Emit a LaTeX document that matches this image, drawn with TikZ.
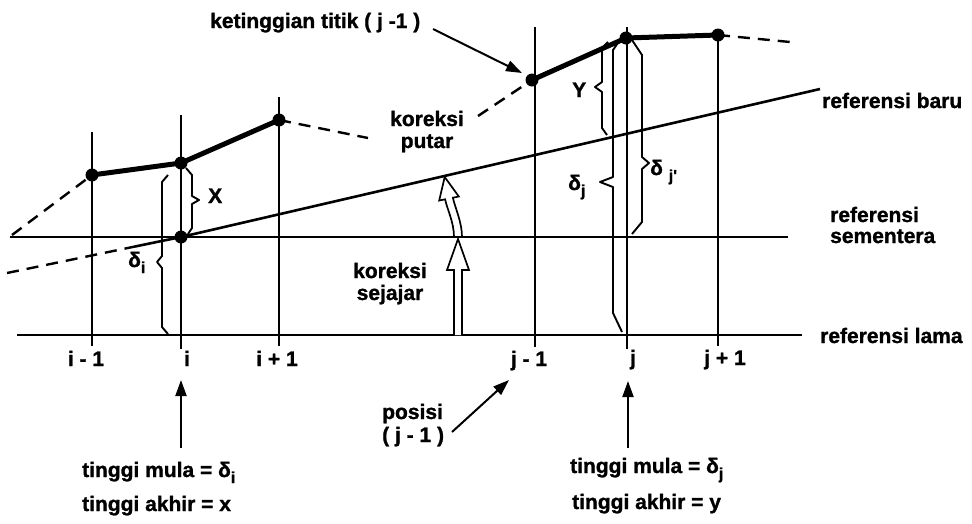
\documentclass[tikz,border=0pt]{standalone}
\usepackage{fontspec}
\setmainfont{Liberation Sans}[BoldFeatures={FakeBold=1.2}]
\newfontfamily\qfont{Liberation Sans}[Ligatures=ResetAll,BoldFeatures={FakeBold=1.2}]
\usetikzlibrary{arrows.meta}
\newcommand{\lsub}[1]{\raisebox{-0.55ex}{\fontsize{16}{16}\selectfont #1}}
\begin{document}
\begin{tikzpicture}[x=1pt,y=-1pt,
  refline/.style={line width=2.6pt},
  gridline/.style={line width=2.2pt},
  profile/.style={line width=5pt,line join=round,line cap=round},
  dashline/.style={line width=2.4pt,dash pattern=on 12pt off 8pt},
  dot/.style={circle,fill=black,inner sep=0pt,minimum size=13pt},
  lbl/.style={font=\bfseries\fontsize{21}{24}\selectfont,inner sep=0pt},
  bracestyle/.style={line width=1.9pt,line join=round},
  ptr/.style={line width=2pt,-{Triangle[length=16pt,width=11pt]}},
  hollow/.style={line width=1.7pt,fill=white,line join=miter}]
\useasboundingbox (0,0) rectangle (972,523);

% points
\coordinate (Pa) at (92,175);
\coordinate (Pb) at (181,163);
\coordinate (Pc) at (279,120);
\coordinate (Pd) at (532,80);
\coordinate (Pe) at (626,38);
\coordinate (Pf) at (718,35);
\coordinate (Q) at (181,237);

% reference lines
\coordinate (L0) at (17,335);  \coordinate (L1) at (802,335);
\coordinate (S0) at (10,237);  \coordinate (S1) at (788,237);
\coordinate (B0) at (7,273);   \coordinate (Bm) at (135,246.5);
\coordinate (B1) at (820,89);
\draw[refline] (L0) -- (L1);
\draw[refline] (S0) -- (S1);
\draw[dashline] (B0) -- (Bm);
\draw[refline] (Bm) -- (Q) -- (B1);

% vertical station lines
\coordinate (Va0) at (92,132);  \coordinate (Va1) at (92,346);
\coordinate (Vb0) at (181,115); \coordinate (Vb1) at (181,349);
\coordinate (Vc0) at (279,97);  \coordinate (Vc1) at (279,346);
\coordinate (Vd0) at (535,27);  \coordinate (Vd1) at (535,347);
\coordinate (Ve0) at (627,27);  \coordinate (Ve1) at (627,349);
\coordinate (Vf0) at (718,33);  \coordinate (Vf1) at (718,346);
\foreach \s in {a,b,c,d,e,f} {\draw[gridline] (V\s0) -- (V\s1);}

% profile
\draw[profile] (Pa) -- (Pb) -- (Pc);
\draw[profile] (Pd) -- (Pe) -- (Pf);
\coordinate (Da) at (12,235);
\coordinate (Dc) at (368,138);
\coordinate (Dd) at (478,116);
\coordinate (Df) at (790,42);
\draw[dashline] (Da) -- (Pa);
\draw[dashline] (Pc) -- (Dc);
\draw[dashline] (Dd) -- (Pd);
\draw[dashline] (Pf) -- (Df);

% dots
\node[dot] (dPa) at (Pa) {};
\node[dot] (dPb) at (Pb) {};
\node[dot] (dPc) at (Pc) {};
\node[dot] (dPd) at (Pd) {};
\node[dot] (dPe) at (Pe) {};
\node[dot] (dPf) at (Pf) {};
\node[dot] (dQ) at (Q) {};

% braces
\draw[bracestyle] (186,168) -- (192,175) -- (192,196) -- (199,200) -- (192,204) -- (192,228) -- (188,234);
\draw[bracestyle] (168,175) -- (162,182) -- (162,256) -- (157,262) -- (162,268) -- (162,327) -- (168,334);
\draw[bracestyle] (608,42) -- (602,48) -- (602,82) -- (595,87) -- (602,92) -- (602,128) -- (607,135);
\draw[bracestyle] (620,40) -- (613,50) -- (613,177) -- (600,182) -- (613,187) -- (613,313) -- (622,332);
\draw[bracestyle] (632,40) -- (642,55) -- (642,157) -- (649,163) -- (642,169) -- (642,222) -- (632,234);

% hollow arrows
\draw[hollow] (454,335) -- (454,270) -- (447,270) -- (458,239) -- (469,270) -- (462,270) -- (462,335);
\draw[hollow] (454,237) .. controls (454,222) and (447,209) .. (445.1,199.3)
  -- (439.2,200.5) -- (444.7,177) -- (458.8,196.5) -- (452.9,197.7)
  .. controls (455,207.7) and (462,222) .. (462,237) -- cycle;

% labels
\node[lbl,anchor=base west] (kt) at (210,28) {ketinggian titik ( j -1 )};
\coordinate (kta) at (433,29);
\draw[ptr] (kta) -- (522,73);

\node[lbl,anchor=base] (kp1) at (427,126) {koreksi};
\node[lbl,anchor=base] (kp2) at (427,148) {putar};
\node[lbl,anchor=base] (ks1) at (390,278) {koreksi};
\node[lbl,anchor=base] (ks2) at (390,300) {sejajar};

\node[lbl,anchor=base west] (lx) at (208,203) {X};
\node[lbl,anchor=base west] (ly) at (572,97) {Y};
\node[lbl,anchor=base west] (ldi) at (128,267) {δ\lsub{i}};
\node[lbl,anchor=base west] (ldj) at (568,190) {δ\lsub{j}};
\node[lbl,anchor=base west] (ldjp) at (650,175) {δ \lsub{j{\qfont\bfseries '}}};

\node[lbl,anchor=base west] (rb) at (822,108) {referensi baru};
\node[lbl,anchor=base west] (rs1) at (830,222) {referensi};
\node[lbl,anchor=base west] (rs2) at (830,243) {sementera};
\node[lbl,anchor=base west] (rl) at (820,343) {referensi lama};

\node[lbl,anchor=base] (ti1) at (86,366) {i - 1};
\node[lbl,anchor=base] (ti) at (187,366) {i};
\node[lbl,anchor=base] (ti2) at (277,366) {i + 1};
\node[lbl,anchor=base] (tj1) at (529,366) {j - 1};
\node[lbl,anchor=base] (tj) at (633,365) {j};
\node[lbl,anchor=base] (tj2) at (725,365) {j + 1};

\coordinate (ai0) at (181,448);
\draw[ptr] (ai0) -- (181,380);
\coordinate (aj0) at (628,448);
\draw[ptr] (aj0) -- (628,381);

\node[lbl,anchor=base west] (mi) at (82,477) {tinggi mula = δ\lsub{i}};
\node[lbl,anchor=base west] (ai) at (82,511) {tinggi akhir = x};
\node[lbl,anchor=base west] (mj) at (570,473) {tinggi mula = δ\lsub{j}};
\node[lbl,anchor=base west] (aj) at (572,509) {tinggi akhir = y};

\node[lbl,anchor=base west] (ps1) at (382,419) {posisi};
\node[lbl,anchor=base west] (ps2) at (382,442) {( j - 1 )};
\coordinate (psa) at (452,432);
\draw[ptr] (psa) -- (509,380);
\end{tikzpicture}
\end{document}
